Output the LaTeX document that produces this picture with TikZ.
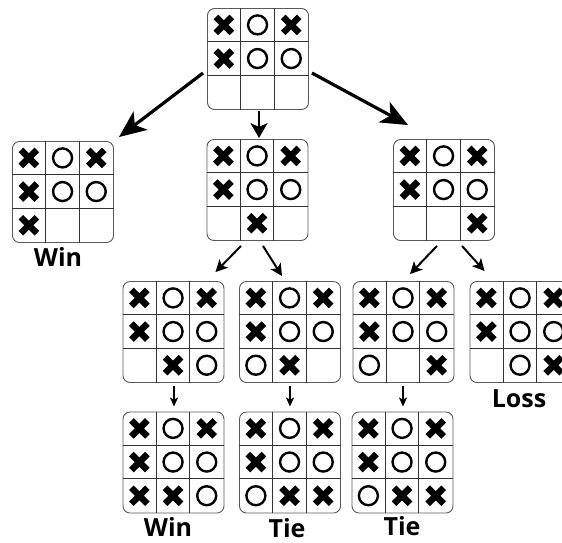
\documentclass[tikz,border=0pt]{standalone}
\usepackage{fontspec}
\newfontfamily\labfont{Open Sans}
\usetikzlibrary{arrows.meta,calc}
\tikzset{
 board/.style={draw=black!65, line width=0.9pt, rounded corners=7pt, minimum size=101pt, inner sep=0pt, fill=white},
 gridline/.style={draw=black!80, line width=0.9pt},
 xmark/.style={line width=6.5pt, black},
 omark/.style={line width=2.4pt, black},
 bigarrow/.style={line width=3.2pt, -{Stealth[length=27pt,width=23pt,inset=7pt]}},
 midarrow/.style={line width=2.4pt, -{Stealth[length=15pt,width=17pt,inset=4pt]}},
 smallarrow/.style={line width=2pt, -{Stealth[length=12pt,width=12pt,inset=3pt]}},
 tinyarrow/.style={line width=1.3pt, -{Stealth[length=9pt,width=8pt,inset=2pt]}},
 result/.style={font=\labfont\bfseries\fontsize{25}{25}\selectfont, anchor=base, inner sep=0pt},
}
\newcommand\tttboard[3]{%
 \node[board] (#1) at (#2) {};
 \draw[gridline] ($(#1.north west)+(33.67,0)$) -- ($(#1.south west)+(33.67,0)$);
 \draw[gridline] ($(#1.north west)+(67.33,0)$) -- ($(#1.south west)+(67.33,0)$);
 \draw[gridline] ($(#1.north west)+(0,33.67)$) -- ($(#1.north east)+(0,33.67)$);
 \draw[gridline] ($(#1.north west)+(0,67.33)$) -- ($(#1.north east)+(0,67.33)$);
 \foreach \m [count=\i from 0] in {#3} {
   \pgfmathtruncatemacro\col{mod(\i,3)}
   \pgfmathtruncatemacro\row{div(\i,3)}
   \coordinate (#1-\i) at ($(#1.north west)+(\col*33.67+16.83, \row*33.67+16.83)$);
   \ifnum\m=1 \draw[xmark] ($(#1-\i)+(-8,-8)$) -- ++(16,16) ($(#1-\i)+(-8,8)$) -- ++(16,-16);\fi
   \ifnum\m=2 \draw[omark] (#1-\i) circle[radius=9.5pt];\fi
 }
}
\begin{document}
\begin{tikzpicture}[x=1pt,y=-1pt]
\useasboundingbox (0,0) rectangle (562,542);
\clip (0,0) rectangle (562,542);
% boards
\tttboard{top}{258,59}{1,2,1,1,2,2,0,0,0}
\tttboard{bwin}{63,192}{1,2,1,1,2,2,1,0,0}
\tttboard{bmid}{257.5,190}{1,2,1,1,2,2,0,1,0}
\tttboard{bright}{444,190}{1,2,1,1,2,2,0,0,1}
\tttboard{ba}{173.5,332}{1,2,1,1,2,2,0,1,2}
\tttboard{bb}{290,332}{1,2,1,1,2,2,2,1,0}
\tttboard{bc}{403.5,332}{1,2,1,1,2,2,2,0,1}
\tttboard{bd}{520.5,332}{1,2,1,1,2,2,0,2,1}
\tttboard{be}{173.5,462.5}{1,2,1,1,2,2,1,1,2}
\tttboard{bf}{290,462.5}{1,2,1,1,2,2,2,1,1}
\tttboard{bg}{402.5,462.5}{1,2,1,1,2,2,2,1,1}
% labels
\node[result] (lwin1) at (58,266) {Win};
\node[result] (lwin2) at (168,536) {Win};
\node[result] (ltie1) at (287,537) {Tie};
\node[result] (ltie2) at (402,535) {Tie};
\node[result] (lloss) at (519,407) {Loss};
% arrows
\draw[bigarrow] ($(top.west)+(-4,14)$) -- ($(bwin.north east)+(5,-4)$);
\draw[midarrow] ($(top.south)+(1,1)$) -- ($(bmid.north)+(1.5,-1)$);
\draw[bigarrow] ($(top.east)+(3,14)$) -- ($(bright.north west)+(15,-14)$);
\draw[smallarrow] ($(bmid.south)+(-16.5,5)$) -- ($(ba.north east)+(-9,-9)$);
\draw[smallarrow] ($(bmid.south)+(5.5,5)$) -- ($(bb.north)+(-8,-5)$);
\draw[smallarrow] ($(bright.south)+(-7,5)$) -- ($(bc.north)+(6.5,-7)$);
\draw[smallarrow] ($(bright.south)+(18,5)$) -- ($(bd.north west)+(15,-10)$);
\draw[tinyarrow] ($(ba.south)+(0.5,3)$) -- ($(be.north)+(0.5,-5)$);
\draw[tinyarrow] ($(bb.south)+(0,3)$) -- ($(bf.north)+(0,-5)$);
\draw[tinyarrow] ($(bc.south)+(-0.5,3)$) -- ($(bg.north)+(0.5,-5)$);
\end{tikzpicture}
\end{document}
